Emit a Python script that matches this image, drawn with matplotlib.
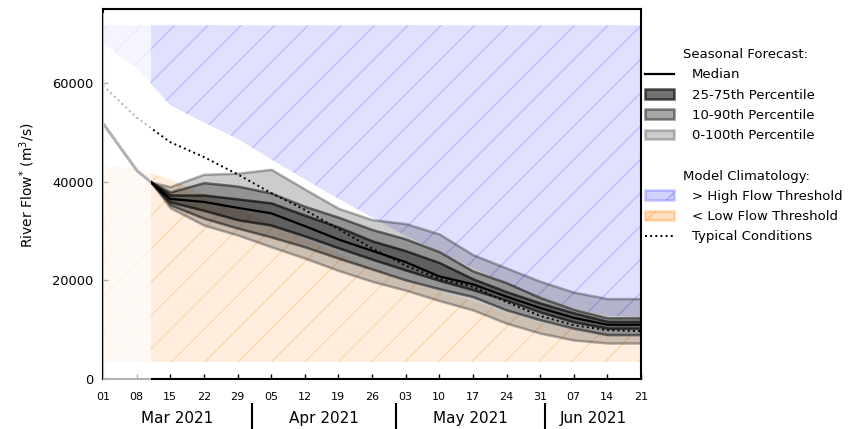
import matplotlib
matplotlib.use('Agg')
import matplotlib.pyplot as plt
import matplotlib.dates as mdates
from matplotlib.patches import Rectangle, Patch
from matplotlib.lines import Line2D
import pandas as pd

# seasonal forecast (all members equal before the 11 Mar start)
fc_dates = ['2021-03-01', '2021-03-08', '2021-03-11', '2021-03-15', '2021-03-22',
            '2021-03-29', '2021-04-05', '2021-04-12', '2021-04-19', '2021-04-26',
            '2021-05-03', '2021-05-10', '2021-05-17', '2021-05-24', '2021-05-31',
            '2021-06-07', '2021-06-14', '2021-06-21']
p100 = [51800, 42300, 39900, 39000, 41500, 41700, 42500, 38500, 34600, 32300,
        31500, 29400, 25200, 22500, 19800, 17600, 16300, 16300]
p90 = [51800, 42300, 39900, 37900, 39800, 39100, 37700, 35000, 32800, 30300,
       28400, 25800, 21900, 19500, 16500, 14100, 12400, 12400]
p75 = [51800, 42300, 39900, 37300, 37300, 36500, 35700, 33200, 30800, 28000,
       26000, 23600, 20300, 17700, 15400, 13400, 11700, 11700]
p50 = [51800, 42300, 39900, 36500, 35900, 34700, 33600, 31000, 28300, 26000,
       23700, 20800, 19200, 16700, 14400, 12400, 11000, 11000]
p25 = [51800, 42300, 39900, 35900, 34200, 32300, 31200, 29000, 26600, 24300,
       22100, 20000, 18100, 16000, 13600, 11600, 10300, 10300]
p10 = [51800, 42300, 39900, 35300, 32600, 30600, 28800, 26800, 24500, 22300,
       20100, 18300, 16700, 14000, 12000, 10300, 9000, 9000]
p0 = [51800, 42300, 39900, 34700, 31200, 29200, 26800, 24500, 22000, 19800,
      18000, 15900, 14000, 11300, 9300, 7900, 7300, 7300]

# model climatology (weekly)
clim_dates = ['2021-03-01', '2021-03-08', '2021-03-15', '2021-03-22', '2021-03-29',
              '2021-04-05', '2021-04-12', '2021-04-19', '2021-04-26', '2021-05-03',
              '2021-05-10', '2021-05-17', '2021-05-24', '2021-05-31', '2021-06-07',
              '2021-06-14', '2021-06-21']
typical = [59500, 53000, 48000, 45000, 41500, 37700, 34300, 30400, 26500, 23000,
           20300, 18700, 15600, 12800, 10900, 9900, 9700]
high_thresh = [68000, 63000, 55500, 52000, 48700, 44500, 40500, 36500, 32800, 29000,
               25800, 22500, 19300, 16500, 14300, 12800, 12600]
low_thresh = [43400, 42700, 40500, 37500, 34500, 31500, 28500, 25500, 22500, 20000,
              17800, 15800, 13500, 11500, 10000, 9000, 8800]
clim_max = 71700
clim_min = 3450

fc_start = '2021-03-11'
tick_dates = ['2021-03-01', '2021-03-08', '2021-03-15', '2021-03-22', '2021-03-29',
              '2021-04-05', '2021-04-12', '2021-04-19', '2021-04-26', '2021-05-03',
              '2021-05-10', '2021-05-17', '2021-05-24', '2021-05-31', '2021-06-07',
              '2021-06-14', '2021-06-21']
month_starts = ['2021-03-01', '2021-04-01', '2021-05-01', '2021-06-01']
month_names = ['Mar 2021', 'Apr 2021', 'May 2021', 'Jun 2021']

fd = pd.to_datetime(fc_dates)
cd = pd.to_datetime(clim_dates)
td = pd.to_datetime(tick_dates)
x0, x1 = td[0], td[-1]

plt.rcParams['axes.linewidth'] = 1.5
plt.rcParams['hatch.linewidth'] = 1.1

fig = plt.figure(figsize=(8.48, 4.29), dpi=100)
ax = fig.add_axes([103/848, 1-379/429, 538/848, 370/429])

# climatology
blue_face = (0, 0, 1, 0.12)
blue_hatch = (0, 0, 1, 0.15)
orng_face = (1, 0.5, 0, 0.13)
orng_hatch = (1, 0.5, 0, 0.2)
ax.fill_between(cd, high_thresh, clim_max, facecolor=blue_face, edgecolor=blue_hatch,
                hatch='/', linewidth=0, zorder=1)
ax.fill_between(cd, clim_min, low_thresh, facecolor=orng_face, edgecolor=orng_hatch,
                hatch='/', linewidth=0, zorder=1)

# forecast bands
ax.fill_between(fd, p0, p100, facecolor=(0, 0, 0, 0.2), edgecolor=(0, 0, 0, 0.3),
                linewidth=1.8, zorder=2)
ax.fill_between(fd, p10, p90, facecolor=(0, 0, 0, 0.28), edgecolor=(0, 0, 0, 0.5),
                linewidth=1.8, zorder=2)
ax.fill_between(fd, p25, p75, facecolor=(0, 0, 0, 0.35), edgecolor=(0, 0, 0, 0.65),
                linewidth=1.8, zorder=2)
ax.plot(cd, typical, color='k', linestyle=':', linewidth=1.4, zorder=3)
ax.plot(fd, p50, color='k', linewidth=1.6, zorder=3)

# fade the period before the forecast start
fs = mdates.date2num(pd.Timestamp(fc_start))
xs = mdates.date2num(x0)
ax.add_patch(Rectangle((xs, -800), fs - xs, 74200 + 800, facecolor='white', alpha=0.7,
                       edgecolor='none', zorder=5, clip_on=False))

ax.set_xlim(x0, x1)
ax.set_ylim(0, 75000)
ax.set_xticks(td)
ax.xaxis.set_major_formatter(mdates.DateFormatter('%d'))
ax.set_yticks([0, 20000, 40000, 60000])
ax.tick_params(axis='both', direction='in', length=3.6, width=1.0)
ax.tick_params(axis='x', labelsize=8, pad=9)
ax.tick_params(axis='y', labelsize=9.4, pad=7)
ax.set_ylabel('River Flow$^{*}$ (m$^{3}$/s)', fontsize=10)
ax.yaxis.set_label_coords(-0.123, 0.524)

# month labels with separators
ms = pd.to_datetime(month_starts)
ends = list(ms[1:]) + [x1]
mids = [a + (b - a) / 2 for a, b in zip(ms, ends)]
sec = ax.secondary_xaxis(-24/370)
sec.spines['bottom'].set_visible(False)
sec.set_xticks(ms[1:])
sec.set_xticklabels(['' for _ in ms[1:]])
sec.set_xticks(mids, minor=True)
sec.set_xticklabels(month_names, minor=True)
sec.tick_params(which='major', direction='out', length=19, width=1.5)
sec.tick_params(which='minor', length=0, labelsize=11, pad=6)

# legend
blank = Rectangle((0, 0), 1, 1, visible=False)
handles = [blank,
           Line2D([], [], color='k', linewidth=1.6),
           Patch(facecolor=(0, 0, 0, 0.55), edgecolor=(0, 0, 0, 0.65), linewidth=1.8),
           Patch(facecolor=(0, 0, 0, 0.35), edgecolor=(0, 0, 0, 0.45), linewidth=1.8),
           Patch(facecolor=(0, 0, 0, 0.2), edgecolor=(0, 0, 0, 0.25), linewidth=1.8),
           blank, blank,
           Patch(facecolor=(0, 0, 1, 0.18), edgecolor=(0, 0, 1, 0.2), hatch='/', linewidth=1.8),
           Patch(facecolor=(1, 0.5, 0, 0.25), edgecolor=(1, 0.5, 0, 0.3), hatch='/', linewidth=1.8),
           Line2D([], [], color='k', linestyle=':', linewidth=1.4)]
labels = ['Seasonal Forecast:', 'Median', '25-75th Percentile', '10-90th Percentile',
          '0-100th Percentile', ' ', 'Model Climatology:', '> High Flow Threshold',
          '< Low Flow Threshold', 'Typical Conditions']
leg = fig.legend(handles, labels, loc='upper left', bbox_to_anchor=(645/848, 1-48/429),
                 frameon=False, fontsize=9.5, borderpad=0, borderaxespad=0,
                 handlelength=2.2, handletextpad=1.36, labelspacing=0.55, handleheight=0.75)
for i in (0, 6):
    leg.get_texts()[i].set_x(-9)

fig.savefig('out.png', dpi=100)
